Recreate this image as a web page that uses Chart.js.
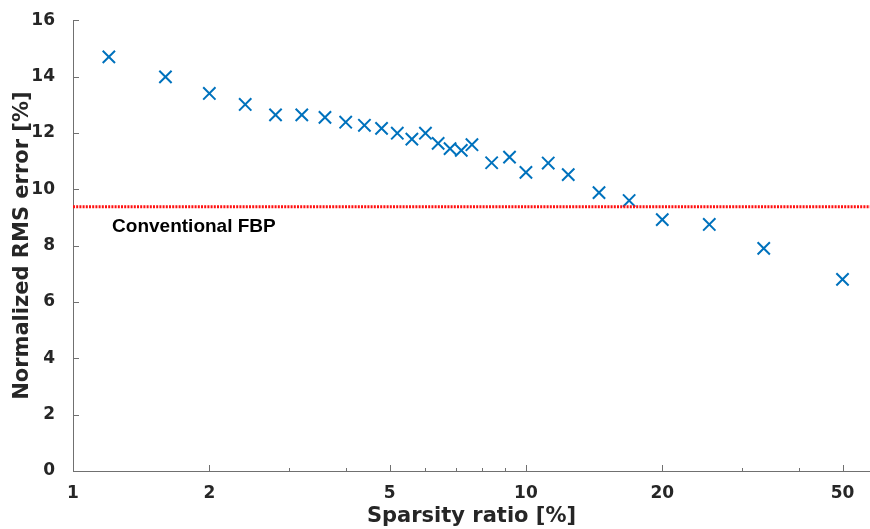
<!DOCTYPE html>
<html>
<head>
<meta charset="utf-8">
<script src="https://cdn.jsdelivr.net/npm/chart.js@4.4.1/dist/chart.umd.min.js"></script>
<style>
  html, body { margin: 0; padding: 0; background: #fff; }
  #wrap { width: 870px; height: 529px; }
</style>
</head>
<body>
<div id="wrap"><canvas id="rmsChart" width="870" height="529"></canvas></div>
<script>
// sparsity ratio [%] vs normalized RMS error [%]
const sparsity = [1.2, 1.6, 2.0, 2.4, 2.8, 3.2, 3.6, 4.0, 4.4, 4.8, 5.2, 5.6, 6.0, 6.4, 6.8, 7.2, 7.6,
                  8.4, 9.2, 10, 11.2, 12.4, 14.5, 16.9, 20, 25.4, 33.5, 50];
const rmsError = [14.70, 13.99, 13.40, 13.01, 12.64, 12.64, 12.55, 12.38, 12.27, 12.16, 11.99, 11.78, 11.99, 11.63, 11.44, 11.38, 11.58,
                  10.94, 11.14, 10.60, 10.93, 10.52, 9.88, 9.60, 8.92, 8.75, 7.90, 6.80];
const fbpError = 9.38;           // conventional FBP reference level
const fbpLabel = "Conventional FBP";
const xRange = [1, 57.5];
const xMajorTicks = [1, 2, 5, 10, 20, 50];
const xMinorTicks = [3, 4, 6, 7, 8, 9, 30, 40];
const yRange = [0, 16];

const axisGrey = "#707070";
const textCol  = "#262626";

// inward tick marks, MATLAB style
const inwardTicks = {
  id: "inwardTicks",
  afterDraw(chart) {
    const { ctx, chartArea: a, scales: { x, y } } = chart;
    ctx.save();
    ctx.strokeStyle = axisGrey;
    ctx.lineWidth = 1;
    ctx.beginPath();
    const tx = (v, len) => {
      const px = Math.round(x.getPixelForValue(v)) + 0.5;
      ctx.moveTo(px, a.bottom);
      ctx.lineTo(px, a.bottom - len);
    };
    xMajorTicks.forEach(v => tx(v, 6));
    xMinorTicks.forEach(v => tx(v, 3));
    y.ticks.forEach(t => {
      const py = Math.round(y.getPixelForValue(t.value)) + 0.5;
      ctx.moveTo(a.left, py);
      ctx.lineTo(a.left + 6, py);
    });
    ctx.stroke();
    ctx.restore();
  }
};

// text under the FBP line
const fbpText = {
  id: "fbpText",
  afterDatasetsDraw(chart) {
    const { ctx, scales: { x, y } } = chart;
    ctx.save();
    ctx.font = "bold 19px 'Liberation Sans', Arial, sans-serif";
    ctx.fillStyle = "#000";
    ctx.textAlign = "left";
    ctx.textBaseline = "middle";
    ctx.fillText(fbpLabel, x.getPixelForValue(1.22), y.getPixelForValue(fbpError - 0.7));
    ctx.restore();
  }
};

const tickFont  = { family: "'DejaVu Sans', sans-serif", size: 17, weight: "bold" };
const titleFont = { family: "'DejaVu Sans', sans-serif", size: 21, weight: "bold" };

new Chart(document.getElementById("rmsChart"), {
  type: "scatter",
  data: {
    datasets: [
      {
        label: "FBP",
        type: "line",
        data: [{ x: xRange[0], y: fbpError }, { x: xRange[1], y: fbpError }],
        borderColor: "#ff1010",
        borderWidth: 3,
        borderDash: [2, 1.2],
        borderCapStyle: "butt",
        pointRadius: 0,
        fill: false
      },
      {
        label: "RMS error",
        data: sparsity.map((s, i) => ({ x: s, y: rmsError[i] })),
        pointStyle: "crossRot",
        pointRadius: 8.7,
        pointBorderWidth: 2,
        borderColor: "#0072BD",
        backgroundColor: "#0072BD"
      }
    ]
  },
  options: {
    responsive: false,
    animation: false,
    devicePixelRatio: 1,
    // autoPadding would reserve room for the big markers on the right
    layout: { autoPadding: false, padding: { top: 18, right: 0, left: 0, bottom: 0 } },
    plugins: { legend: { display: false }, tooltip: { enabled: false } },
    scales: {
      x: {
        type: "logarithmic",
        min: xRange[0],
        max: xRange[1],
        grid: { display: true, drawOnChartArea: false, drawTicks: true, tickLength: 12, tickColor: "rgba(0,0,0,0)" },
        border: { display: true, color: axisGrey, width: 1 },
        ticks: {
          autoSkip: false,
          maxRotation: 0,
          padding: 0,
          color: textCol,
          font: tickFont,
          callback: v => xMajorTicks.includes(v) ? String(v) : ""
        },
        title: { display: true, text: "Sparsity ratio [%]", color: textCol, font: titleFont, padding: { top: 0, bottom: 0 } },
        afterFit: s => { s.height = 58; }
      },
      y: {
        min: yRange[0],
        max: yRange[1],
        grid: { display: false },
        border: { display: true, color: axisGrey, width: 1 },
        ticks: { stepSize: 2, padding: 10, color: textCol, font: tickFont },
        title: { display: true, text: "Normalized RMS error [%]", color: textCol, font: titleFont, padding: { top: 10, bottom: 0 } },
        afterFit: s => { s.width = 73; }
      }
    }
  },
  plugins: [inwardTicks, fbpText]
});
</script>
</body>
</html>
